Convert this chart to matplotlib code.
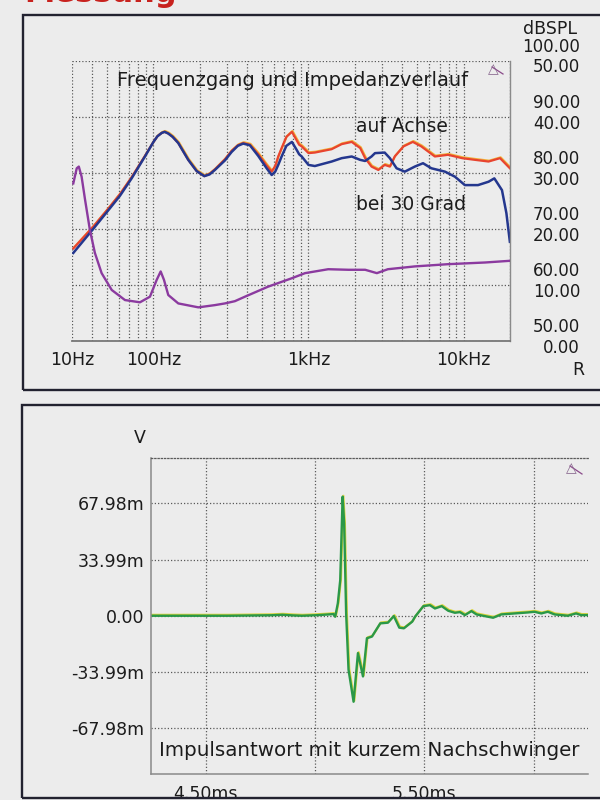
import matplotlib
matplotlib.use('Agg')
import matplotlib.pyplot as plt
import matplotlib.transforms as mtrans
import matplotlib.ticker as mticker
from matplotlib.patches import Rectangle
from matplotlib.lines import Line2D
import numpy as np

# ---------------- data: frequency response (dB SPL) ----------------
f_axis = [30.4, 40.9, 51.1, 60.8, 72.3, 88.1, 100, 106, 113, 118, 124.6, 133, 144.6, 167.7, 190,
          212.8, 230, 249, 289, 319, 350, 379, 419, 474, 537, 579, 610, 638, 671, 720, 782, 838, 870, 904,
          1000, 1099, 1410, 1636, 1900, 2155, 2320, 2550, 2820, 3100, 3350, 3600,
          4100, 4710, 5340, 6530, 7950, 9800, 11850, 14500, 17200, 19900]
spl_axis = [66.5, 70.4, 73.6, 76.2, 79.2, 83.0, 85.5, 86.5, 87.1, 87.3, 87.0, 86.4, 85.3, 82.3, 80.3,
            79.4, 79.8, 80.6, 82.4, 83.9, 84.9, 85.3, 85.0, 83.3, 81.3, 80.2, 81.2, 82.9, 84.4, 86.4, 87.3, 85.8, 85.0, 84.7,
            83.5, 83.6, 84.2, 85.1, 85.5, 84.4, 82.6, 81.1, 80.5, 81.4, 81.1, 82.9,
            84.7, 85.5, 84.7, 82.9, 83.2, 82.6, 82.3, 82.0, 82.6, 80.8]

f_30 = [30.4, 40.9, 51.1, 60.8, 72.3, 88.1, 100, 106, 113, 118, 124.6, 133, 144.6, 167.7, 190,
        212.8, 230, 249, 289, 319, 350, 379, 419, 474, 537, 579, 610, 638, 671, 720, 782, 838, 870, 904,
        1000, 1099, 1410, 1636, 1900, 2155, 2320, 2550, 2685, 3100, 3350, 3700,
        4180, 4850, 5480, 6200, 7590, 8800, 10200, 12400, 14500, 15800, 17700,
        18900, 19900]
spl_30 = [65.7, 70.0, 73.3, 75.9, 79.0, 82.9, 85.5, 86.5, 87.1, 87.3, 87.0, 86.4, 85.3, 82.3, 80.3,
          79.4, 79.7, 80.5, 82.2, 83.7, 84.8, 85.2, 84.9, 83.0, 80.8, 79.6, 80.2, 81.4, 82.9, 84.8, 85.5, 84.1, 83.3, 82.9,
          81.4, 81.2, 82.0, 82.6, 82.9, 82.3, 82.1, 82.9, 83.5, 83.6, 82.6, 80.8,
          80.2, 81.1, 81.7, 80.8, 80.2, 79.3, 77.8, 77.8, 78.4, 79.0, 76.9,
          72.8, 67.7]

# ---------------- data: impedance (Ohm) ----------------
f_imp = [30.4, 32, 33, 34.4, 36.2, 38.9, 41.9, 46.3, 53.8, 65.5, 81.8, 94.9, 104.9,
         111.3, 116.9, 124.6, 144.6, 194.8, 249, 289, 335, 389, 550, 782, 950, 1340,
         1810, 2320, 2760, 3250, 4850, 7950, 13800, 19900]
r_imp = [28.1, 30.8, 31.1, 29.3, 25.2, 19.8, 15.7, 12.1, 9.1, 7.3, 6.9, 7.9, 10.9,
         12.4, 10.9, 8.2, 6.7, 6.0, 6.4, 6.7, 7.1, 7.9, 9.7, 11.2, 12.1, 12.8,
         12.7, 12.7, 12.1, 12.8, 13.3, 13.7, 14.0, 14.3]

# ---------------- data: impulse response ----------------
t_ms = [4.25, 4.60, 4.80, 4.85, 4.90, 4.94, 5.00, 5.04, 5.084, 5.092, 5.104, 5.115,
        5.126, 5.133, 5.142, 5.153, 5.165, 5.176, 5.196, 5.219, 5.237, 5.260, 5.298,
        5.333, 5.360, 5.385, 5.406, 5.444, 5.457, 5.495, 5.525, 5.548, 5.579, 5.609,
        5.639, 5.662, 5.685, 5.715, 5.738, 5.775, 5.814, 5.851, 5.912, 5.973, 6.003,
        6.034, 6.064, 6.095, 6.155, 6.193, 6.216, 6.25]
v_mV = [0, 0, 0.3, 0.6, 0.2, 0, 0.3, 0.6, 1.0, -0.6, 7.5, 21.5,
        72.0, 55.8, 1.4, -32.7, -42.7, -52.0, -22.6, -36.7, -13.6, -12.6, -4.6,
        -4.2, -0.2, -7.2, -7.6, -3.6, -0.6, 5.8, 6.4, 4.4, 5.8, 3.0,
        1.8, 2.2, 0.4, 2.8, 0.8, -0.2, -1.2, 0.8, 1.4, 2.0, 2.4,
        1.4, 2.4, 0.8, 0.0, 1.4, 0.4, 0.4]

x_tick_pos = [30, 100, 1000, 10000]
x_tick_lab = ['10Hz', '100Hz', '1kHz', '10kHz']
db_ticks = [100, 90, 80, 70, 60, 50]
r_ticks = [50, 40, 30, 20, 10, 0]
v_ticks = [67.98, 33.99, 0.0, -33.99, -67.98]
v_tick_lab = ['67.98m', '33.99m', '0.00', '-33.99m', '-67.98m']
t_ticks = [4.5, 5.0, 5.5, 6.0]
t_tick_lab = ['4.50ms', '', '5.50ms', '']

# ---------------- layout ----------------
W, H = 600, 800
TXT = '#1c1c1c'
GRID = dict(color='#5a5a5a', linestyle=(0, (1, 1.6)), linewidth=0.9)

fig = plt.figure(figsize=(6, 8), dpi=100)
fig.patch.set_facecolor('#ececec')

def fx(x):
    return x / W

def fy(y):
    return 1 - y / H

# outer frames
fig.add_artist(Rectangle((fx(23), fy(390)), fx(640 - 23), (390 - 15) / H, fill=False,
                         lw=1.7, ec='#222230', transform=fig.transFigure))
fig.add_artist(Rectangle((fx(22), fy(798)), fx(640 - 22), (798 - 405) / H, fill=False,
                         lw=1.7, ec='#222230', transform=fig.transFigure))

# cut-off red heading at the very top (only its lower edge shows)
fig.text(fx(24), fy(1.5), 'Messung', color='#c8221e', fontsize=22, fontweight='bold',
         ha='left', va='baseline')

# ---------------- top chart ----------------
ax = fig.add_axes([fx(72.4), fy(341), (510.2 - 72.4) / W, (341 - 60.6) / H])
ax.set_facecolor('none')
ax.set_xscale('log')
ax.set_xlim(30, 20000)
ax.set_ylim(50, 100)
ax.xaxis.set_minor_locator(mticker.LogLocator(base=10, subs=np.arange(2, 10), numticks=30))
ax.xaxis.set_minor_formatter(mticker.NullFormatter())
ax.set_xticks(x_tick_pos)
ax.set_xticklabels(x_tick_lab)
ax.set_yticks(db_ticks)
ax.set_yticklabels([])
ax.tick_params(which='both', length=0)
ax.tick_params(axis='x', pad=7, labelsize=12.5, colors=TXT)
ax.grid(which='both', axis='x', **GRID)
ax.grid(which='major', axis='y', **GRID)
for s in ('left', 'top'):
    ax.spines[s].set_visible(False)
ax.spines['bottom'].set_color('#777777')
ax.spines['bottom'].set_linewidth(1.3)
ax.spines['right'].set_color('#8a8a8a')
ax.spines['right'].set_linewidth(1.0)

halo = mtrans.offset_copy(ax.transData, fig=fig, x=0.6, y=0.9, units='dots')
ax.plot(f_axis, spl_axis, color='#f2b23a', lw=1.5, transform=halo, solid_joinstyle='round')
ax.plot(f_axis, spl_axis, color='#e8442f', lw=1.6, solid_joinstyle='round')
ax.plot(f_30, spl_30, color='#24378e', lw=1.8, solid_joinstyle='round')

ax2 = ax.twinx()
ax2.set_ylim(0, 50)
ax2.set_yticks([])
for s in ax2.spines.values():
    s.set_visible(False)
ax2.plot(f_imp, r_imp, color='#8b3a9f', lw=1.7, solid_joinstyle='round')

bt = mtrans.blended_transform_factory(ax.transAxes, ax.transData)
xr = (580 - 72.4) / (510.2 - 72.4)
for d in db_ticks:
    ax.text(xr, d + 2.5, f'{d:.2f}', transform=bt, ha='right', va='center',
            fontsize=12, color=TXT, clip_on=False)
bt2 = mtrans.blended_transform_factory(ax2.transAxes, ax2.transData)
for r in r_ticks:
    ax2.text(xr, r - 1.23, f'{r:.2f}', transform=bt2, ha='right', va='center',
             fontsize=12, color=TXT, clip_on=False)

fig.text(fx(577), fy(29), 'dBSPL', ha='right', va='center', fontsize=12.5, color=TXT)
fig.text(fx(584), fy(370), 'R', ha='right', va='center', fontsize=12.5, color=TXT)
fig.text(fx(117), fy(80), 'Frequenzgang und Impedanzverlauf', ha='left', va='center',
         fontsize=14, color=TXT)
fig.text(fx(356), fy(127), 'auf Achse', ha='left', va='center', fontsize=13.5, color=TXT)
fig.text(fx(356), fy(205), 'bei 30 Grad', ha='left', va='center', fontsize=13.5, color=TXT)

# cursor symbol
fig.text(fx(493), fy(69), '△', ha='center', va='center', fontsize=10, color='#8a6a90')
fig.add_artist(Line2D([fx(492), fx(503)], [fy(67), fy(74)], color='#8a4a8a', lw=0.9,
                      transform=fig.transFigure))

# ---------------- bottom chart ----------------
axb = fig.add_axes([fx(151), fy(774), (588.5 - 151) / W, (774 - 458) / H])
axb.set_facecolor('none')
axb.set_xlim(4.25, 6.25)
axb.set_ylim(-95.7, 95.4)
axb.set_xticks(t_ticks)
axb.set_xticklabels(t_tick_lab)
axb.set_yticks(v_ticks)
axb.set_yticklabels(v_tick_lab)
axb.tick_params(length=0, labelsize=12.5, colors=TXT)
axb.tick_params(axis='y', pad=4.5)
axb.tick_params(axis='x', pad=8)
axb.grid(True, **GRID)
axb.spines['right'].set_visible(False)
axb.spines['top'].set_linestyle((0, (1, 1.6)))
axb.spines['top'].set_color('#5a5a5a')
axb.spines['top'].set_linewidth(0.9)
for s in ('left', 'bottom'):
    axb.spines[s].set_color('#8a8a8a')
    axb.spines[s].set_linewidth(1.1)

haloB = mtrans.offset_copy(axb.transData, fig=fig, x=0.7, y=0.9, units='dots')
axb.plot(t_ms, v_mV, color='#d9d43a', lw=1.6, transform=haloB)
axb.plot(t_ms, v_mV, color='#2a9848', lw=1.7)

fig.text(fx(140), fy(438), 'V', ha='center', va='center', fontsize=12.5, color=TXT)
fig.text(fx(159), fy(750), 'Impulsantwort mit kurzem Nachschwinger', ha='left',
         va='center', fontsize=14.3, color=TXT)
fig.text(fx(571), fy(468), '△', ha='center', va='center', fontsize=10, color='#8a6a90')
fig.add_artist(Line2D([fx(570), fx(582)], [fy(466), fy(474)], color='#8a4a8a', lw=0.9,
                      transform=fig.transFigure))

fig.savefig('out.png', dpi=100, facecolor=fig.get_facecolor())
